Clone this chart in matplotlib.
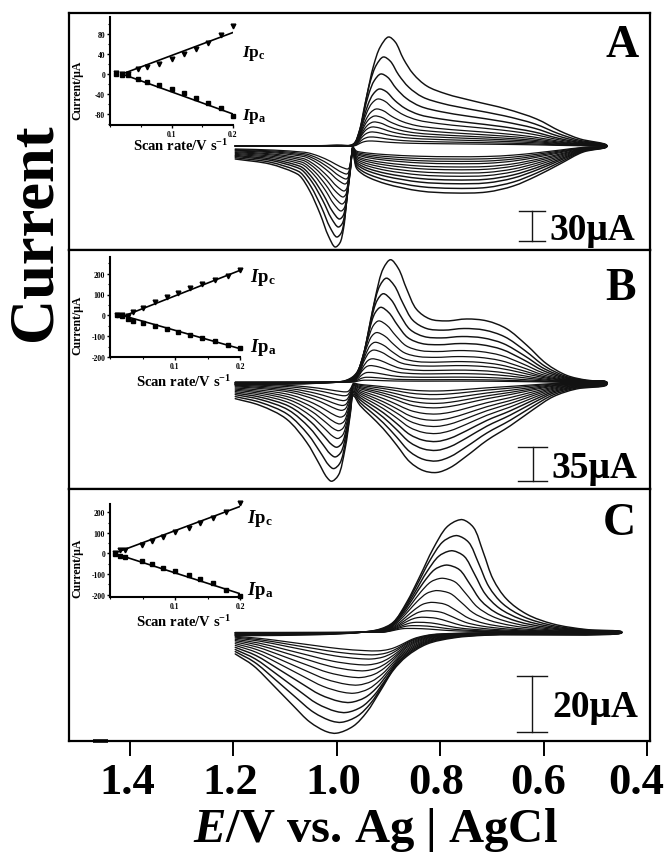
import numpy as np
import matplotlib
matplotlib.use("Agg")
import matplotlib.pyplot as plt
import matplotlib.transforms as mtransforms
from matplotlib.path import Path
from matplotlib.patches import PathPatch
from matplotlib.ticker import FixedLocator, MultipleLocator

plt.rcParams['font.family'] = ['Liberation Serif', 'DejaVu Serif']
plt.rcParams['font.weight'] = 'bold'
plt.rcParams['axes.unicode_minus'] = False
plt.rcParams['mathtext.fontset'] = 'custom'
plt.rcParams['mathtext.rm'] = 'Liberation Serif:bold'
plt.rcParams['mathtext.bf'] = 'Liberation Serif:bold'
plt.rcParams['mathtext.it'] = 'Liberation Serif:italic:bold'
plt.rcParams['mathtext.bfit'] = 'Liberation Serif:italic:bold'

# ---------------- voltammogram data (E / V, I / uA) ----------------
# outermost (fastest scan) curve of each panel: forward (upper) and reverse (lower) branch
A_up_E = [1.196, 1.097, 1.000, 0.968, 0.955, 0.942, 0.929, 0.916, 0.900, 0.887, 0.871,
          0.852, 0.826, 0.788, 0.736, 0.672, 0.614, 0.569, 0.530, 0.479]
A_up_I = [0.0, 0.0, 0.7, 2.0, 17, 50, 80, 99, 109, 104, 87, 72, 60, 52, 45, 37, 27, 15, 7, 1]
A_lo_E = [1.196, 1.129, 1.084, 1.071, 1.052, 1.032, 1.016, 1.003, 0.994, 0.987, 0.981, 0.974,
          0.969, 0.962, 0.950, 0.936, 0.904, 0.839, 0.775, 0.710, 0.659, 0.614, 0.569, 0.524, 0.479]
A_lo_I = [-13, -18, -26, -30, -45, -68, -90, -101, -97, -83, -56, -26, -4, -22, -28, -32, -38,
          -45, -47, -46, -40, -30, -18, -6, -1]

B_up_E = [1.196, 1.097, 1.032, 0.981, 0.961, 0.942, 0.926, 0.910, 0.896, 0.881, 0.865, 0.846,
          0.820, 0.788, 0.749, 0.710, 0.672, 0.633, 0.595, 0.556, 0.517, 0.479]
B_up_I = [-3, -2, -1, 2, 10, 41, 86, 117, 126, 117, 96, 75, 65, 63, 65, 63, 55, 38, 19, 7, 2, 0]
B_lo_E = [1.196, 1.148, 1.097, 1.058, 1.036, 1.019, 1.010, 0.997, 0.984, 0.974, 0.968, 0.955,
          0.936, 0.910, 0.884, 0.859, 0.833, 0.807, 0.781, 0.749, 0.710, 0.665, 0.620, 0.582,
          0.537, 0.479]
B_lo_I = [-17, -24, -38, -62, -82, -98, -102, -96, -69, -34, -14, -24, -34, -48, -65, -82, -91,
          -93, -88, -76, -60, -45, -28, -15, -7, -3]

C_up_E = [1.196, 1.032, 0.955, 0.916, 0.891, 0.865, 0.839, 0.814, 0.788, 0.768, 0.756, 0.736,
          0.717, 0.698, 0.672, 0.633, 0.582, 0.517, 0.450]
C_up_I = [-1.2, -0.8, 0.0, 1.2, 3.6, 10.7, 20.2, 29.8, 37.5, 39.9, 40.2, 37.5, 28.6, 19.0,
          11.9, 6.5, 3.0, 1.0, 0.2]
C_lo_E = [1.196, 1.161, 1.122, 1.084, 1.052, 1.019, 1.000, 0.968, 0.942, 0.916, 0.891, 0.865,
          0.826, 0.775, 0.710, 0.450]
C_lo_I = [-7.7, -11.9, -19.0, -26.2, -32.0, -35.5, -36.0, -33.5, -28.5, -21.0, -13.6, -8.6,
          -4.2, -2.0, -1.0, -0.2]

# peak currents and peak potentials of every scan (fastest first)
A_ipc = [109, 89, 72, 57, 47, 37, 30, 24, 19, 14, 9, 5]
A_epc = [0.900, 0.910, 0.915, 0.918, 0.921, 0.924, 0.927, 0.929, 0.932, 0.934, 0.936, 0.938]
A_ipa = [-101, -91, -81, -73, -65, -58, -51, -45, -38, -33, -28, -23]
A_epa = [1.003, 1.000, 0.997, 0.995, 0.992, 0.990, 0.988, 0.986, 0.984, 0.982, 0.981, 0.979]

B_ipc = [126, 107, 91, 77, 63, 51, 41, 33, 24, 17, 10, 5, 2]
B_epc = [0.896, 0.904, 0.910, 0.915, 0.919, 0.923, 0.926, 0.929, 0.932, 0.936, 0.939, 0.942, 0.945]
B_ipa = [-102, -89, -77, -67, -58, -50, -43, -36, -29, -24, -19, -14, -10]
B_epa = [1.010, 1.006, 1.003, 1.000, 0.998, 0.996, 0.994, 0.992, 0.990, 0.988, 0.986, 0.984, 0.982]

C_ipc = [40.2, 34.5, 29.1, 24.0, 19.3, 14.9, 10.7, 7.7, 5.4, 3.6, 2.4, 1.4]
C_epc = [0.756, 0.766, 0.775, 0.785, 0.794, 0.804, 0.814, 0.823, 0.833, 0.843, 0.852, 0.862]
C_ipa = [-36.0, -32.1, -28.6, -25.0, -21.7, -18.8, -16.1, -13.7, -11.6, -9.5, -8.0, -6.6]
C_epa = [1.000, 0.990, 0.981, 0.973, 0.965, 0.958, 0.952, 0.945, 0.939, 0.932, 0.926, 0.920]

# ---------------- inset data: peak current vs scan rate ----------------
A_rate = [0.010, 0.020, 0.030, 0.045, 0.060, 0.080, 0.100, 0.120, 0.140, 0.160, 0.180, 0.200]
A_Ipc = [2, 0, 0, 10, 15, 20, 30, 40, 50, 63, 78, 97]
A_Ipa = [0, -2, -2, -9, -15, -22, -30, -38, -47, -57, -67, -83]
A_fit_x = [0.024, 0.200]
A_fit_c = [2, 83]
A_fit_a = [-2, -80]

B_rate = [0.010, 0.018, 0.028, 0.036, 0.051, 0.069, 0.087, 0.105, 0.123, 0.141, 0.162, 0.182, 0.200]
B_Ipc = [0, 0, -5, 16, 37, 64, 88, 109, 131, 152, 168, 189, 216]
B_Ipa = [0, -3, -17, -25, -35, -50, -66, -80, -95, -109, -125, -141, -157]
B_fit_x = [0.024, 0.200]
B_fit_c = [0, 216]
B_fit_a = [-5, -160]

C_rate = [0.008, 0.015, 0.023, 0.049, 0.064, 0.082, 0.100, 0.121, 0.138, 0.159, 0.179, 0.200]
C_Ipc = [0, 15, 19, 39, 60, 79, 103, 124, 148, 173, 200, 245]
C_Ipa = [-3, -10, -18, -37, -50, -70, -85, -106, -125, -145, -175, -205]
C_fit_x = [0.010, 0.200]
C_fit_c = [5, 228]
C_fit_a = [-3, -195]

x_ticks = [1.4, 1.2, 1.0, 0.8, 0.6, 0.4]
x_ticklabels = ['1.4', '1.2', '1.0', '0.8', '0.6', '0.4']

# ---------------- figure ----------------
W, H = 665, 854
fig = plt.figure(figsize=(W / 100, H / 100), dpi=100)


def fx(px):
    return px / W


def fy(py):
    return 1 - py / H


def smooth_path(xs, ys, sx, sy, alpha=0.5):
    """Centripetal Catmull-Rom curve through the points, as cubic Bezier segments."""
    P = np.column_stack([np.asarray(xs, float) * sx, np.asarray(ys, float) * sy])
    ext = np.vstack([2 * P[0] - P[1], P, 2 * P[-1] - P[-2]])
    verts = [P[0]]
    codes = [Path.MOVETO]
    for k in range(len(P) - 1):
        p0, p1, p2, p3 = ext[k], ext[k + 1], ext[k + 2], ext[k + 3]
        d1 = max(np.hypot(*(p1 - p0)), 1e-9) ** alpha
        d2 = max(np.hypot(*(p2 - p1)), 1e-9) ** alpha
        d3 = max(np.hypot(*(p3 - p2)), 1e-9) ** alpha
        b1 = (d1 ** 2 * p2 - d2 ** 2 * p0 + (2 * d1 ** 2 + 3 * d1 * d2 + d2 ** 2) * p1) / (3 * d1 * (d1 + d2))
        b2 = (d3 ** 2 * p1 - d2 ** 2 * p3 + (2 * d3 ** 2 + 3 * d3 * d2 + d2 ** 2) * p2) / (3 * d3 * (d3 + d2))
        verts += [b1, b2, p2]
        codes += [Path.CURVE4] * 3
    V = np.array(verts)
    V[:, 0] /= sx
    V[:, 1] /= sy
    return Path(V, codes)


def draw_family(ax, upE, upI, loE, loI, ipc, epc, ipa, epa, up_on, lo_on, sy):
    upE = np.asarray(upE); upI = np.asarray(upI)
    loE = np.asarray(loE); loI = np.asarray(loI)
    eL, eR = upE[0], upE[-1]
    for i in range(len(ipc)):
        # move the peaks to this scan's peak potential, keep the switching ends fixed
        uE = np.interp(upE, [eR, epc[0], up_on, eL], [eR, epc[i], up_on, eL])
        lE = np.interp(loE, [eR, lo_on, epa[0], eL], [eR, lo_on, epa[i], eL])
        uI = upI * ipc[i] / ipc[0]
        lI = loI * ipa[i] / ipa[0]
        E = np.concatenate([uE, lE[::-1]])
        I = np.concatenate([uI, lI[::-1]])
        lw = 1.05 if i < 4 else 0.9
        ax.add_patch(PathPatch(smooth_path(E, I, 518.0, sy), fill=False,
                               edgecolor='#121212', lw=lw, joinstyle='round', capstyle='round'))


def scale_bar(ax, x0, y0, length, half, label, lx, ly):
    ax.plot([x0, x0], [y0, y0 + length], color='#151515', lw=1.0)
    ax.plot([x0 - half, x0 + half], [y0, y0], color='#151515', lw=1.0)
    ax.plot([x0 - half, x0 + half], [y0 + length, y0 + length], color='#151515', lw=1.0)
    ax.text(lx, ly, label, fontsize=27, fontweight='bold', ha='left', va='baseline')


XLIM = (1.517, 0.395)
panels = [
    dict(rect=(69, 14, 650, 251), ylim=(-104, 133),
         up=(A_up_E, A_up_I), lo=(A_lo_E, A_lo_I), pk=(A_ipc, A_epc, A_ipa, A_epa),
         on=(0.968, 0.969), letter='A', lpos=(622, 57),
         bar=(0.623, -95, 30, 0.025, '30\u03bcA', 0.590, -93)),
    dict(rect=(69, 251, 650, 490), ylim=(-110, 136),
         up=(B_up_E, B_up_I), lo=(B_lo_E, B_lo_I), pk=(B_ipc, B_epc, B_ipa, B_epa),
         on=(0.975, 0.968), letter='B', lpos=(621, 300),
         bar=(0.621, -101.6, 35, 0.028, '35\u03bcA', 0.586, -97.5)),
    dict(rect=(69, 490, 650, 742), ylim=(-38.8, 51.2),
         up=(C_up_E, C_up_I), lo=(C_lo_E, C_lo_I), pk=(C_ipc, C_epc, C_ipa, C_epa),
         on=(0.916, 0.80), letter='C', lpos=(619, 535),
         bar=(0.623, -35.6, 20, 0.029, '20\u03bcA', 0.584, -29.9)),
]

axes = []
for p in panels:
    l, t, r, b = p['rect']
    ax = fig.add_axes([fx(l), fy(b), fx(r - l), (b - t) / H])
    ax.set_xlim(*XLIM)
    ax.set_ylim(*p['ylim'])
    sy = (b - t) / (p['ylim'][1] - p['ylim'][0])
    draw_family(ax, *p['up'], *p['lo'], *p['pk'], *p['on'], sy)
    scale_bar(ax, *p['bar'])
    for s in ax.spines.values():
        s.set_linewidth(1.6)
    ax.set_yticks([])
    ax.set_xticks([])
    fig.text(fx(p['lpos'][0]), fy(p['lpos'][1]), p['letter'], fontsize=33,
             fontweight='bold', ha='center', va='baseline')
    axes.append(ax)

axC = axes[-1]
axC.set_xticks(x_ticks)
axC.set_xticklabels(x_ticklabels)
axC.tick_params(axis='x', direction='out', length=10.5, width=1.4, pad=4.5, labelsize=32)
# the printed labels sit a little left of their tick marks
label_shift_px = [-2, -3, -3, -4, -6, -11]
for lab, dx in zip(axC.get_xticklabels(), label_shift_px):
    lab.set_transform(lab.get_transform() +
                      mtransforms.ScaledTranslation(dx / 100, 0, fig.dpi_scale_trans))
# short dark mark on the bottom frame near the left corner
axC.plot([1.470, 1.442], [-38.8, -38.8], color='black', lw=2.6, clip_on=False,
         solid_capstyle='butt')

fig.text(fx(36), fy(232), 'Current', rotation=90, fontsize=45, fontweight='bold',
         ha='center', va='center')
fig.text(fx(375), fy(842), r'$\mathbfit{E}$/V vs. Ag | AgCl', fontsize=35,
         fontweight='bold', ha='center', va='baseline')

# ---------------- insets ----------------
insets = [
    dict(rect=(110, 18, 233, 126), ylim=(-102, 114), yt=[80, 40, 0, -40, -80], ym=20,
         rate=A_rate, ipc=A_Ipc, ipa=A_Ipa, fx_=A_fit_x, fc=A_fit_c, fa=A_fit_a,
         ylab=(77, 90), xlab=(181, 146), ipc_pos=(242, 57), ipa_pos=(242, 120), ipsize=12.5),
    dict(rect=(110, 258, 240, 358), ylim=(-200, 280), yt=[200, 100, 0, -100, -200], ym=50,
         rate=B_rate, ipc=B_Ipc, ipa=B_Ipa, fx_=B_fit_x, fc=B_fit_c, fa=B_fit_a,
         ylab=(77, 325), xlab=(184, 382), ipc_pos=(250, 282), ipa_pos=(250, 352), ipsize=13.5),
    dict(rect=(110, 505, 240, 598), ylim=(-211, 240), yt=[200, 100, 0, -100, -200], ym=50,
         rate=C_rate, ipc=C_Ipc, ipa=C_Ipa, fx_=C_fit_x, fc=C_fit_c, fa=C_fit_a,
         ylab=(77, 568), xlab=(184, 622), ipc_pos=(247, 523), ipa_pos=(247, 595), ipsize=13.5),
]

for q in insets:
    l, t, r, b = q['rect']
    ia = fig.add_axes([fx(l), fy(b), fx(r - l), (b - t) / H])
    ia.set_facecolor('none')
    ia.set_xlim(0, 0.2)
    ia.set_ylim(*q['ylim'])
    ia.plot(q['fx_'], q['fc'], color='black', lw=1.2)
    ia.plot(q['fx_'], q['fa'], color='black', lw=1.2)
    ia.plot(q['rate'], q['ipc'], 'v', color='black', ms=3.4, clip_on=False)
    ia.plot(q['rate'], q['ipa'], 's', color='black', ms=3.0, clip_on=False)
    for side in ('top', 'right'):
        ia.spines[side].set_visible(False)
    for side in ('left', 'bottom'):
        ia.spines[side].set_linewidth(1.5)
    ia.yaxis.set_major_locator(FixedLocator(q['yt']))
    ia.yaxis.set_minor_locator(MultipleLocator(q['ym']))
    ia.xaxis.set_major_locator(FixedLocator([0.1, 0.2]))
    ia.xaxis.set_minor_locator(MultipleLocator(0.05))
    ia.tick_params(which='major', direction='out', length=2.5, width=1.0, labelsize=5.5, pad=1)
    ia.tick_params(which='minor', direction='out', length=1.5, width=0.8)
    fig.text(fx(q['ylab'][0]), fy(q['ylab'][1]), 'Current/\u03bcA', rotation=90, fontsize=8.5,
             fontweight='bold', ha='center', va='center')
    fig.text(fx(q['xlab'][0]), fy(q['xlab'][1]), r'Scan rate/V s$^{\mathbf{-1}}$', fontsize=10.5,
             fontweight='bold', ha='center', va='center')
    fig.text(fx(q['ipc_pos'][0]), fy(q['ipc_pos'][1]), r'$\mathbfit{I}\mathbf{p}_{\mathbf{c}}$',
             fontsize=q['ipsize'], ha='left', va='baseline')
    fig.text(fx(q['ipa_pos'][0]), fy(q['ipa_pos'][1]), r'$\mathbfit{I}\mathbf{p}_{\mathbf{a}}$',
             fontsize=q['ipsize'], ha='left', va='baseline')

fig.savefig('out.png', dpi=100)
